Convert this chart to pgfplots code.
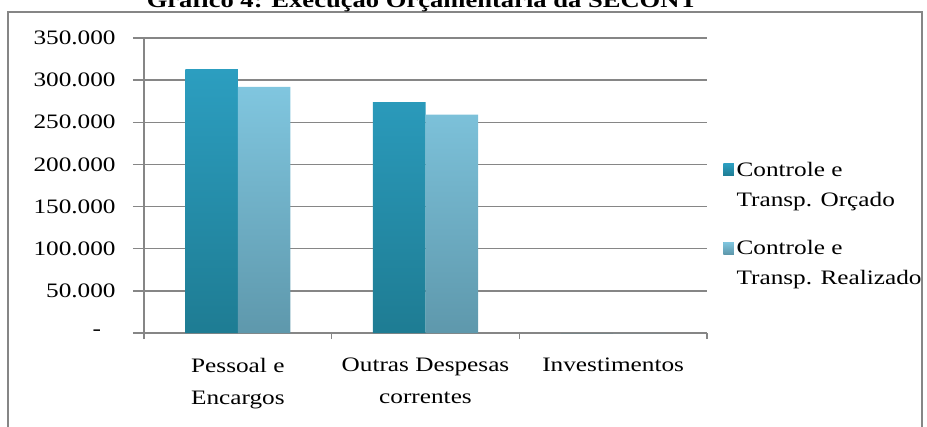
\documentclass[border=0pt]{standalone}
\usepackage{pgfplots}
\pgfplotsset{compat=1.18}
\usepackage{fontspec}
\setmainfont{Liberation Serif}[FakeStretch=1.23]
\definecolor{orcTop}{HTML}{2C9EC0}
\definecolor{orcBot}{HTML}{1E7C93}
\definecolor{orcLeg}{HTML}{2488A6}
\definecolor{reaTop}{HTML}{80C6DF}
\definecolor{reaBot}{HTML}{5E98AC}
\definecolor{reaLeg}{HTML}{6CADC4}
\definecolor{gridgray}{HTML}{868686}
\begin{document}
\begin{tikzpicture}[font=\fontsize{15.4}{24}\selectfont]
\useasboundingbox (0,0) rectangle (695.25pt,-319.5pt);
\draw[gridgray, line width=1.1pt] (6pt,-9pt) rectangle (691.5pt,-330pt);
\node[font=\bfseries\fontsize{16.2}{18}\selectfont, anchor=base] at (316.5pt,-5.25pt) {Gráfico 4: Execução Orçamentária da SECONT};
\begin{axis}[
  at={(108pt,-249.75pt)}, anchor=south west,
  scale only axis, width=422.25pt, height=221.25pt,
  xmin=-0.5, xmax=2.5, ymin=0, ymax=350000,
  scaled y ticks=false,
  axis lines*=left,
  axis line style={gridgray, line width=1.1pt},
  ymajorgrids, grid style={gridgray, line width=1.1pt},
  ytick={0,50000,100000,150000,200000,250000,300000,350000},
  yticklabels={-\rule{11pt}{0pt},50.000,100.000,150.000,200.000,250.000,300.000,350.000},
  tick align=outside, major tick length=8.25pt,
  tick style={gridgray, line width=1.1pt},
  yticklabel style={anchor=east, xshift=-9.5pt},
  xtick={0,1,2},
  xticklabels={Pessoal e\\Encargos, Outras Despesas\\correntes, Investimentos},
  xtick style={draw=none},
  xticklabel style={align=center, anchor=north, yshift=-7pt},
  extra x ticks={-0.5,0.5,1.5,2.5},
  extra x tick labels={},
  extra x tick style={major tick length=4.5pt, xtick style={draw=gridgray, line width=1.1pt}, grid=none},
  ybar, bar width=0.28,
  legend style={at={(axis description cs:1.0284,0.589)}, anchor=north west, draw=none, fill=none, inner sep=0pt, row sep=20pt,
    cells={anchor=base west, align=left}, font=\fontsize{15.4}{22.5}\selectfont},
  clip=false,
]
\addplot[draw=none, top color=orcTop, bottom color=orcBot, bar shift=-0.14,
  legend image code/.code={\fill[orcLeg] (0pt,23pt) rectangle (8pt,32pt);}]
  coordinates {(0,313000) (1,274000) (2,0)};
\addlegendentry{Controle e\\Transp. Orçado}
\addplot[draw=none, top color=reaTop, bottom color=reaBot, bar shift=0.14,
  legend image code/.code={\fill[reaLeg] (0pt,23pt) rectangle (8pt,32pt);}]
  coordinates {(0,292000) (1,259000) (2,0)};
\addlegendentry{Controle e\\Transp. Realizado}
\end{axis}
\end{tikzpicture}
\end{document}
